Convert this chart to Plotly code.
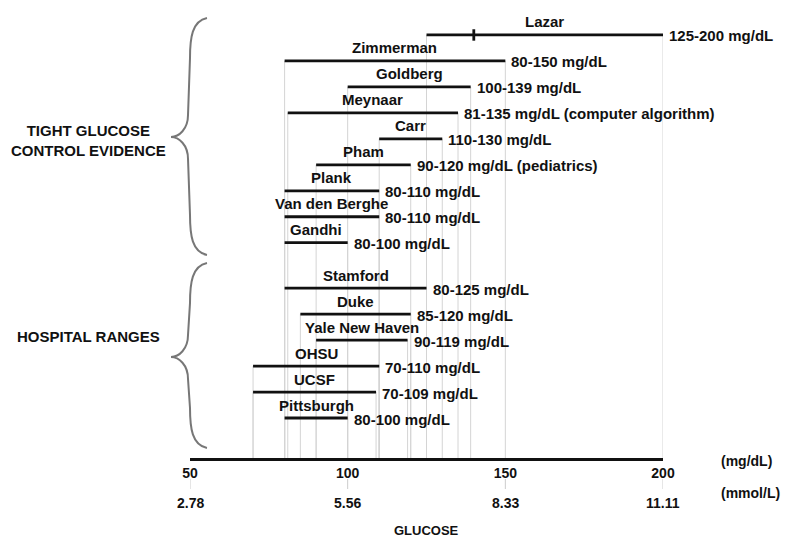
import plotly.graph_objects as go

# studies / hospitals, top to bottom
names = ["Lazar", "Zimmerman", "Goldberg", "Meynaar", "Carr", "Pham", "Plank",
         "Van den Berghe", "Gandhi",
         "Stamford", "Duke", "Yale New Haven", "OHSU", "UCSF", "Pittsburgh"]
lows = [125, 80, 100, 81, 110, 90, 80, 80, 80,
        80, 85, 90, 70, 70, 80]
highs = [200, 150, 139, 135, 130, 120, 110, 110, 100,
         125, 120, 119, 110, 109, 100]
notes = ["", "", "", " (computer algorithm)", "", " (pediatrics)", "", "", "",
         "", "", "", "", "", ""]
group_labels = ["TIGHT GLUCOSE<br>CONTROL EVIDENCE", "HOSPITAL RANGES"]
group_sizes = [9, 6]
lazar_mark = 140

mg_ticks = [50, 100, 150, 200]
mmol_labels = ["2.78", "5.56", "8.33", "11.11"]

FONT = "Liberation Sans, Arial, sans-serif"
GAP = 0.75
YBOT = 16.29
YTOP = -1.0

# row positions with a gap between the two groups
rows = []
for g, n in enumerate(group_sizes):
    start = len(rows) + g * GAP
    rows += [start + j for j in range(n)]

# plot area in pixels
L, R, T, B = 190, 137, 9, 102
W, H = 800 - L - R, 560 - T - B


def px(x):
    return (x - L) / W


def py(y):
    return (T + H - y) / H


fig = go.Figure()

# light grey drop lines from each bar end to the axis
gx, gy = [], []
for lo, hi, r in zip(lows, highs, rows):
    for v in (lo, hi):
        gx += [v, v, None]
        gy += [r, YBOT, None]
fig.add_trace(go.Scatter(x=gx, y=gy, mode="lines",
                         line=dict(color="#d4d4d4", width=1), hoverinfo="skip"))

# range bars
bx, by = [], []
for lo, hi, r in zip(lows, highs, rows):
    bx += [lo, hi, None]
    by += [r, r, None]
fig.add_trace(go.Scatter(x=bx, y=by, mode="lines",
                         line=dict(color="#111", width=2.8), hoverinfo="skip"))

# small tick on the Lazar bar
fig.add_trace(go.Scatter(x=[lazar_mark, lazar_mark], y=[rows[0] - 0.22, rows[0] + 0.22],
                         mode="lines", line=dict(color="#111", width=2.8),
                         hoverinfo="skip"))

for name, lo, hi, note, r in zip(names, lows, highs, notes, rows):
    fig.add_annotation(x=(lo + hi) / 2, y=r, text="<b>%s</b>" % name,
                       showarrow=False, yshift=13, xanchor="center",
                       font=dict(family=FONT, size=15, color="#111"))
    fig.add_annotation(x=hi, y=r, text="<b>%d-%d mg/dL%s</b>" % (lo, hi, note),
                       showarrow=False, xanchor="left", xshift=4, yshift=-1,
                       font=dict(family=FONT, size=15, color="#111"))

# second row of tick labels (mmol/L) with little grey ticks
for v, lab in zip(mg_ticks, mmol_labels):
    fig.add_annotation(x=v, xref="x", y=py(503), yref="paper", text="<b>%s</b>" % lab,
                       showarrow=False, yanchor="middle", xanchor="center",
                       font=dict(family=FONT, size=14, color="#111"))
    fig.add_shape(type="line", xref="x", yref="paper", x0=v, x1=v,
                  y0=py(479), y1=py(489), line=dict(color="#cccccc", width=1))

fig.add_annotation(x=px(719), y=py(471), xref="paper", yref="paper",
                   text="<b>(mg/dL)</b>", showarrow=False, xanchor="left",
                   font=dict(family=FONT, size=14, color="#111"))
fig.add_annotation(x=px(719), y=py(503), xref="paper", yref="paper",
                   text="<b>(mmol/L)</b>", showarrow=False, xanchor="left",
                   font=dict(family=FONT, size=14, color="#111"))
fig.add_annotation(x=px(426), y=py(540), xref="paper", yref="paper",
                   text="<b>GLUCOSE</b>", showarrow=False, xanchor="center",
                   font=dict(family=FONT, size=13, color="#111"))

# group labels and curly braces
label_y = [120, 347]
brace_spans = [(18, 137, 255), (263, 357, 448)]
for lab, ly in zip(group_labels, label_y):
    fig.add_annotation(x=px(88), y=py(ly), xref="paper", yref="paper",
                       text="<b>%s</b>" % lab, showarrow=False, align="center",
                       xanchor="center",
                       font=dict(family=FONT, size=15, color="#111"))


def brace(y0, yc, y1, xr=207, xm=189, xt=171):
    p = lambda x, y: "%.4f,%.4f" % (px(x), py(y))
    return ("M " + p(xr, y0) +
            " C " + p(xm + 3, y0 + 3) + " " + p(xm + 1, y0 + 20) + " " + p(xm + 1, y0 + 40) +
            " L " + p(xm - 1, yc - 22) +
            " C " + p(xm - 1, yc - 8) + " " + p(xt + 8, yc) + " " + p(xt, yc) +
            " C " + p(xt + 8, yc) + " " + p(xm - 1, yc + 8) + " " + p(xm - 1, yc + 22) +
            " L " + p(xm + 1, y1 - 40) +
            " C " + p(xm + 1, y1 - 20) + " " + p(xm + 3, y1 - 3) + " " + p(xr, y1))


for y0, yc, y1 in brace_spans:
    fig.add_shape(type="path", path=brace(y0, yc, y1), xref="paper", yref="paper",
                  line=dict(color="#777", width=2))

fig.update_layout(
    width=800, height=560,
    margin=dict(l=L, r=R, t=T, b=B),
    paper_bgcolor="white", plot_bgcolor="white",
    showlegend=False, hovermode=False,
    xaxis=dict(range=[50, 200], tickvals=mg_ticks,
               ticktext=["<b>%d</b>" % v for v in mg_ticks],
               tickfont=dict(family=FONT, size=14, color="#111"),
               showgrid=False, zeroline=False, ticks="",
               showline=True, linecolor="#111", linewidth=3),
    yaxis=dict(range=[YBOT, YTOP], visible=False, showgrid=False, zeroline=False),
)

# drop the browser's default page margin so the figure sits at (0, 0)
fig.write_html("out.html", config={"displayModeBar": False},
               post_script="document.body.style.margin='0';")
